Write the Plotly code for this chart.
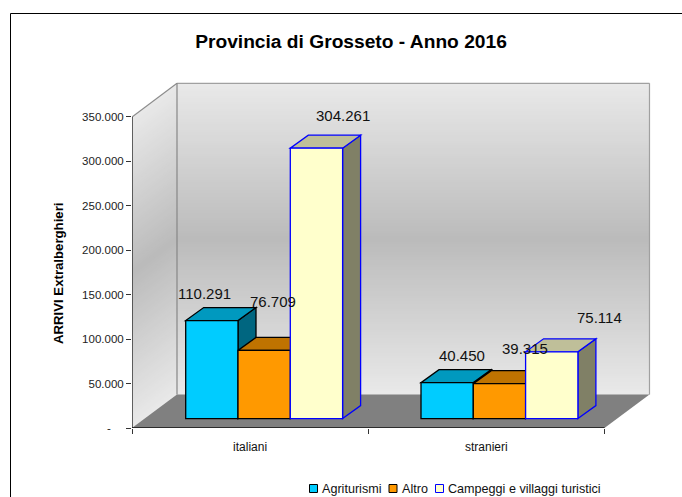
import plotly.graph_objects as go

# ---- data ----
categories = ["italiani", "stranieri"]
series_names = ["Agriturismi", "Altro", "Campeggi e villaggi turistici"]
agriturismi = [110291, 40450]
altro = [76709, 39315]
campeggi = [304261, 75114]
y_tick_values = [0, 50000, 100000, 150000, 200000, 250000, 300000, 350000]
y_tick_labels = ["-&nbsp;&nbsp;&nbsp;&nbsp;", "50.000", "100.000", "150.000", "200.000", "250.000", "300.000", "350.000"]
title_text = "Provincia di Grosseto - Anno 2016"
y_title_text = "ARRIVI Extralberghieri"

# ---- style ----
W, H = 682, 497
FONT = "Liberation Sans, Arial, sans-serif"
front_colors = ["#00CCFF", "#FF9900", "#FFFFCC"]
top_colors = ["#0099BF", "#BF7300", "#BFBF99"]
side_colors = ["#006680", "#804D00", "#808066"]
edge_colors = ["#000000", "#000000", "#0000FF"]
EDGE_W = 1.3
# label offset from the top-centre of each front face, in pixels (right, up)
label_shift_x = [[-7, 15], [9, 26], [27, 48]]
label_shift_y = [[27, 27], [49, 35], [33, 34]]

# ---- frame geometry (pixels) -> scales ----
PLOT_L, PLOT_R, PLOT_T, PLOT_B = 132, 651, 82, 428
PX_PER_CAT = 236.25
PX_PER_UNIT = 311.1 / 350000
X0 = -0.5
X_RANGE = [X0, X0 + (PLOT_R - PLOT_L) / PX_PER_CAT]
Y_RANGE = [0, (PLOT_B - PLOT_T) / PX_PER_UNIT]
WALL_DX = 45 / PX_PER_CAT
WALL_DY = 33.6 / PX_PER_UNIT
BAR_DX = 18 / PX_PER_CAT
BAR_DY = 13 / PX_PER_UNIT
FLOOR = 9.4 / PX_PER_UNIT
BAR_W = 52.3 / PX_PER_CAT
CLUSTER_START = -0.2727
GROUP_STEP = 0.996
Y_MAX = y_tick_values[-1]
X_END = X0 + len(categories)


def poly(points, fill, line=None, width=1, layer="below", xref="x", yref="y"):
    path = "M " + " L ".join(f"{x},{y}" for x, y in points) + " Z"
    return dict(type="path", path=path, fillcolor=fill, xref=xref, yref=yref, layer=layer,
                line=dict(color=line or "rgba(0,0,0,0)", width=width if line else 0))


def wall_gray(t):
    v = 233 - (233 - 187) * (1 - abs(2 * t - 1))
    v = int(round(v))
    return f"rgb({v},{v},{v})"


shapes = []
N = 120
for k in range(N):
    t = k / N
    yt = Y_MAX * (1 - t)
    color = wall_gray((k + 0.5) / N)
    # side wall strip (runs to the bottom, later strips paint over it)
    shapes.append(poly([(X0, yt), (X0 + WALL_DX, yt + WALL_DY), (X0 + WALL_DX, WALL_DY), (X0, 0)], color))
    # back wall strip
    shapes.append(poly([(X0 + WALL_DX, yt + WALL_DY), (X_END + WALL_DX, yt + WALL_DY),
                        (X_END + WALL_DX, WALL_DY), (X0 + WALL_DX, WALL_DY)], color))

# wall outlines
WALL_LINE = "#8C8C8C"
for a, b, c in [((X0, Y_MAX), (X0 + WALL_DX, Y_MAX + WALL_DY), WALL_LINE),
                ((X0 + WALL_DX, Y_MAX + WALL_DY), (X_END + WALL_DX, Y_MAX + WALL_DY), "#A0A0A0"),
                ((X0 + WALL_DX, Y_MAX + WALL_DY), (X0 + WALL_DX, WALL_DY), "#868686"),
                ((X_END + WALL_DX, Y_MAX + WALL_DY), (X_END + WALL_DX, WALL_DY), "#A0A0A0")]:
    shapes.append(dict(type="line", xref="x", yref="y", layer="below", x0=a[0], y0=a[1], x1=b[0], y1=b[1],
                       line=dict(color=c, width=1.2)))

# floor
shapes.append(poly([(X0, 0), (X0 + WALL_DX, WALL_DY), (X_END + WALL_DX, WALL_DY), (X_END, 0)], "#808080"))

# 3D faces of the bars, painted left to right; the fronts (real bars) sit above them
series = [agriturismi, altro, campeggi]
for g in range(len(categories)):
    for s, vals in enumerate(series):
        x0 = g * GROUP_STEP + CLUSTER_START + s * BAR_W
        x1 = x0 + BAR_W
        top = FLOOR + vals[g]
        shapes.append(poly([(x1, FLOOR), (x1, top), (x1 + BAR_DX, top + BAR_DY), (x1 + BAR_DX, FLOOR + BAR_DY)],
                           side_colors[s], edge_colors[s], EDGE_W))
        shapes.append(poly([(x0, top), (x1, top), (x1 + BAR_DX, top + BAR_DY), (x0 + BAR_DX, top + BAR_DY)],
                           top_colors[s], edge_colors[s], EDGE_W))

# axis lines
shapes.append(dict(type="line", xref="x", yref="y", x0=X0, y0=0, x1=X0, y1=Y_MAX, layer="above",
                   line=dict(color="#333333", width=1.5)))
shapes.append(dict(type="line", xref="x", yref="y", x0=X0, y0=0, x1=X_END, y1=0, layer="above",
                   line=dict(color="#111111", width=1.5)))
# chart frame
shapes.append(dict(type="path", xref="paper", yref="paper", layer="above",
                   path=f"M {10.5 / W},0 L {10.5 / W},{1 - 13.5 / H} L 1,{1 - 13.5 / H}",
                   line=dict(color="#000000", width=1)))

fig = go.Figure()
annotations = []
for s, (name, vals) in enumerate(zip(series_names, series)):
    fig.add_trace(go.Bar(
        name=name, x=[g * GROUP_STEP for g in range(len(categories))], y=vals, base=FLOOR,
        offset=CLUSTER_START + s * BAR_W, width=BAR_W,
        marker=dict(color=front_colors[s], line=dict(color=edge_colors[s], width=EDGE_W)),
        showlegend=False,
    ))
    for g, v in enumerate(vals):
        annotations.append(dict(
            x=g * GROUP_STEP + CLUSTER_START + (s + 0.5) * BAR_W, y=FLOOR + v, xref="x", yref="y",
            xshift=label_shift_x[s][g], yshift=label_shift_y[s][g],
            text=f"{v:,}".replace(",", "."), showarrow=False, xanchor="center", yanchor="middle",
            font=dict(family=FONT, size=15, color="#111111"),
        ))

# y axis title
annotations.append(dict(x=58 / W, y=1 - 273 / H, xref="paper", yref="paper", text=f"<b>{y_title_text}</b>",
                        textangle=-90, showarrow=False, xanchor="center", yanchor="middle",
                        font=dict(family=FONT, size=13.2, color="#000000")))

# legend row
legend_swatch_x = [309.5, 389, 435.5]
legend_text_x = [322, 402, 448]
LEG_Y = 488.5
for s, name in enumerate(series_names):
    sx = legend_swatch_x[s]
    shapes.append(dict(type="rect", xref="paper", yref="paper", layer="above",
                       x0=sx / W, x1=(sx + 8) / W, y0=1 - (LEG_Y + 4) / H, y1=1 - (LEG_Y - 4) / H,
                       fillcolor=front_colors[s], line=dict(color=edge_colors[s], width=1)))
    annotations.append(dict(x=legend_text_x[s] / W, y=1 - LEG_Y / H, xref="paper", yref="paper", text=name,
                            showarrow=False, xanchor="left", yanchor="middle", xshift=-2,
                            font=dict(family=FONT, size=12.6, color="#111111")))

fig.update_layout(
    width=W, height=H, margin=dict(l=0, r=0, t=0, b=0, pad=0, autoexpand=False),
    paper_bgcolor="#FFFFFF", plot_bgcolor="rgba(0,0,0,0)",
    barmode="overlay", showlegend=False, shapes=shapes, annotations=annotations,
    title=dict(text=f"<b>{title_text}</b>", x=351 / W, y=1 - 41 / H, xref="paper", yref="paper",
               xanchor="center", yanchor="middle", font=dict(family=FONT, size=19.2, color="#000000")),
    xaxis=dict(domain=[PLOT_L / W, PLOT_R / W], range=X_RANGE, tickvals=list(range(len(categories))),
               ticktext=categories, ticks="", showgrid=False, zeroline=False, showline=False,
               ticklabelstandoff=10, tickfont=dict(family=FONT, size=12, color="#111111"),
               minor=dict(tickvals=[X0 + i for i in range(len(categories) + 1)], ticks="outside", ticklen=5,
                          tickwidth=1, tickcolor="#333333", showgrid=False)),
    yaxis=dict(domain=[1 - PLOT_B / H, 1 - PLOT_T / H], range=Y_RANGE, tickvals=y_tick_values,
               ticktext=y_tick_labels, ticks="outside", ticklen=5, tickwidth=1, tickcolor="#333333",
               showgrid=False, zeroline=False, showline=False,
               tickfont=dict(family=FONT, size=11.5, color="#222222")),
)
fig.write_html("out.html", config={"displayModeBar": False}, post_script="document.body.style.margin='0';")
